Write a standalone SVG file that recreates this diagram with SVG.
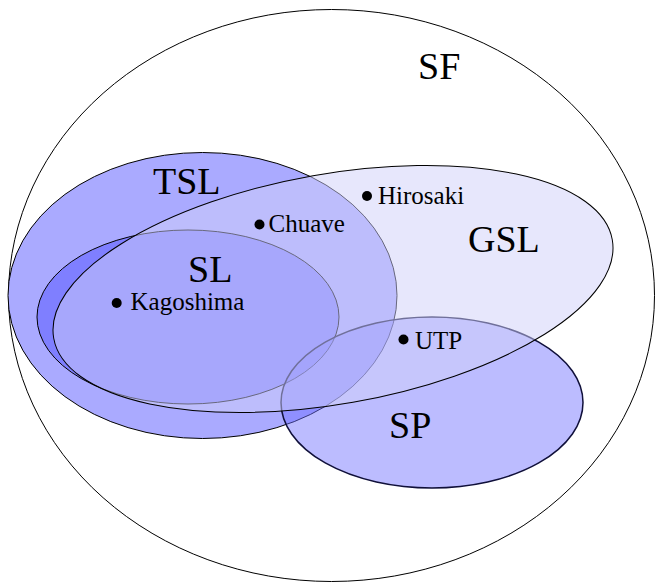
<svg xmlns="http://www.w3.org/2000/svg" width="656" height="583" viewBox="0 0 656 583">
  <style>
    .outline { stroke: #000; stroke-width: 1; }
    .big { font-size: 38px; }
    .small { font-size: 25px; }
    .dot { fill: #000; }
  </style>
  <rect width="656" height="583" fill="#fff"/>

  <!-- universe of all languages -->
  <g id="sf">
    <ellipse cx="331.5" cy="295.5" rx="323" ry="286" fill="none" class="outline"/>
  </g>

  <!-- TSL -->
  <g id="tsl">
    <ellipse cx="202.5" cy="295.5" rx="194.5" ry="143" fill="#aaaaff" class="outline" stroke-width="0.9"/>
  </g>

  <!-- SL -->
  <g id="sl">
    <ellipse cx="188" cy="317" rx="151" ry="87" fill="#0000ff" fill-opacity="0.25" class="outline"/>
  </g>

  <!-- SP -->
  <g id="sp">
    <ellipse cx="432" cy="402.5" rx="151" ry="85.5" fill="#7070ff" fill-opacity="0.47" stroke="#10103a" stroke-width="1.5"/>
  </g>

  <!-- GSL, drawn last so it tints everything below it -->
  <g id="gsl">
    <ellipse cx="0" cy="0" rx="283.6" ry="115" transform="translate(333 289) rotate(-10)" fill="#d0d0fa" fill-opacity="0.5" class="outline"/>
  </g>

  <g font-family="Times New Roman, Liberation Serif, DejaVu Serif, serif" fill="#000">
    <!-- set names -->
    <g id="set-labels">
      <text id="label-sf" class="big" x="418" y="79">SF</text>
      <text id="label-tsl" class="big" x="153" y="194">TSL</text>
      <text id="label-sl" class="big" x="188" y="282">SL</text>
      <text id="label-gsl" class="big" x="468" y="252">GSL</text>
      <text id="label-sp" class="big" x="389" y="438">SP</text>
    </g>

    <!-- example patterns -->
    <g id="kagoshima">
      <circle class="dot" cx="116.7" cy="303" r="5"/>
      <text class="small" x="130.5" y="309.5">Kagoshima</text>
    </g>
    <g id="chuave">
      <circle class="dot" cx="259.5" cy="224.5" r="5"/>
      <text class="small" x="268.5" y="231.5">Chuave</text>
    </g>
    <g id="hirosaki">
      <circle class="dot" cx="367" cy="196" r="5"/>
      <text class="small" x="378" y="203.5">Hirosaki</text>
    </g>
    <g id="utp">
      <circle class="dot" cx="403.5" cy="339.5" r="5"/>
      <text class="small" x="415" y="348.5">UTP</text>
    </g>
  </g>
</svg>
